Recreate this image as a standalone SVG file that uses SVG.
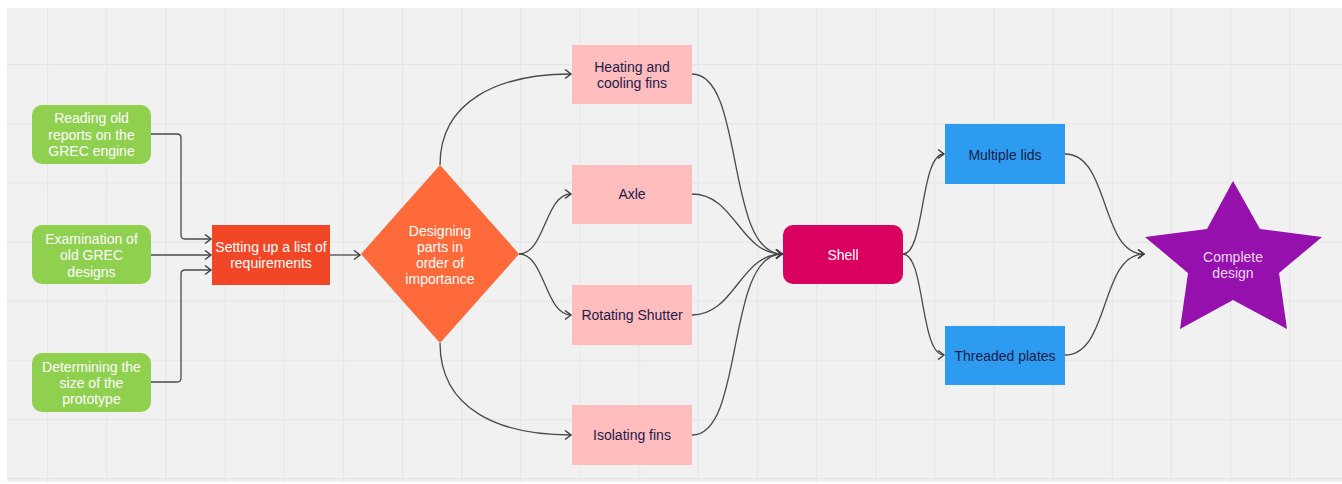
<svg xmlns="http://www.w3.org/2000/svg" width="1342" height="484" viewBox="0 0 1342 484">
<defs>
<marker id="arr" markerUnits="userSpaceOnUse" markerWidth="10" markerHeight="12" refX="7" refY="5" orient="auto">
<path d="M1,0.5 L7,5 L1,9.5" fill="none" stroke="#3c3c3c" stroke-width="1.4" stroke-linejoin="miter"/>
</marker>
<pattern id="grid" patternUnits="userSpaceOnUse" x="47" y="64" width="59.15" height="59.15">
<path d="M0.5,0 V59.15 M0,0.5 H59.15" stroke="#e6e6e6" stroke-width="1.3" fill="none"/>
</pattern>
</defs>
<style>
.t{font-family:"Liberation Sans",Arial,sans-serif;font-size:14px;text-anchor:middle}
.w{fill:#ffffff}
.d{fill:#1c1c4a}
.c{fill:none;stroke:#4a4a4a;stroke-width:1.3;marker-end:url(#arr)}
</style>
<rect width="1342" height="484" fill="#ffffff"/>
<rect x="7" y="8" width="1335" height="474" fill="#f1f1f1"/>
<rect x="7" y="8" width="1335" height="474" fill="url(#grid)"/>

<g id="connectors">
<path class="c" d="M151,134 H177 Q181,134 181,138 V235 Q181,239 185,239 H211"/>
<path class="c" d="M151,255 H211"/>
<path class="c" d="M151,382 H177 Q181,382 181,378 V274 Q181,270 185,270 H211"/>
<path class="c" d="M330,255 H360"/>
<path class="c" d="M440,165 C440,100 500,74 571,74"/>
<path class="c" d="M519,254 C545,254 545,194 571,194"/>
<path class="c" d="M519,254 C545,254 545,315 571,315"/>
<path class="c" d="M440,343 C440,410 500,435 571,435"/>
<path class="c" d="M692,74 C745,74 725,254 782,254"/>
<path class="c" d="M692,194 C735,194 740,254 782,254"/>
<path class="c" d="M692,315 C735,315 740,254 782,254"/>
<path class="c" d="M692,435 C745,435 725,254 782,254"/>
<path class="c" d="M903,254 C925,254 920,154 944,154"/>
<path class="c" d="M903,254 C925,254 920,355 944,355"/>
<path class="c" d="M1065,154 C1110,154 1100,254 1144,254"/>
<path class="c" d="M1065,355 C1110,355 1100,254 1144,254"/>
</g>

<g id="n-reading">
<rect x="32" y="105" width="119" height="59" rx="10" fill="#8fd14f"/>
<text class="t w" x="91.5" y="123">Reading old</text>
<text class="t w" x="91.5" y="140">reports on the</text>
<text class="t w" x="91.5" y="156">GREC engine</text>
</g>
<g id="n-examination">
<rect x="32" y="225" width="119" height="59" rx="10" fill="#8fd14f"/>
<text class="t w" x="91.5" y="244">Examination of</text>
<text class="t w" x="91.5" y="260">old GREC</text>
<text class="t w" x="91.5" y="277">designs</text>
</g>
<g id="n-determining">
<rect x="32" y="353" width="119" height="59" rx="10" fill="#8fd14f"/>
<text class="t w" x="91.5" y="372">Determining the</text>
<text class="t w" x="91.5" y="388">size of the</text>
<text class="t w" x="91.5" y="404">prototype</text>
</g>
<g id="n-setting">
<rect x="212" y="225" width="118" height="60" fill="#f24726"/>
<text class="t w" x="271" y="252">Setting up a list of</text>
<text class="t w" x="271" y="268">requirements</text>
</g>
<g id="n-designing">
<polygon points="440,165 519,254 440,343 361,254" fill="#ff6a3b"/>
<text class="t w" x="440" y="236">Designing</text>
<text class="t w" x="440" y="252">parts in</text>
<text class="t w" x="440" y="268">order of</text>
<text class="t w" x="440" y="284">importance</text>
</g>
<g id="n-heating">
<rect x="572" y="45" width="120" height="59" fill="#ffbdbd"/>
<text class="t d" x="632" y="72">Heating and</text>
<text class="t d" x="632" y="88">cooling fins</text>
</g>
<g id="n-axle">
<rect x="572" y="165" width="120" height="59" fill="#ffbdbd"/>
<text class="t d" x="632" y="199">Axle</text>
</g>
<g id="n-rotating">
<rect x="572" y="285" width="120" height="60" fill="#ffbdbd"/>
<text class="t d" x="632" y="320">Rotating Shutter</text>
</g>
<g id="n-isolating">
<rect x="572" y="405" width="120" height="60" fill="#ffbdbd"/>
<text class="t d" x="632" y="440">Isolating fins</text>
</g>
<g id="n-shell">
<rect x="783" y="225" width="120" height="59" rx="10" fill="#d9005f"/>
<text class="t w" x="843" y="260">Shell</text>
</g>
<g id="n-lids">
<rect x="945" y="124" width="120" height="60" fill="#2d9bf0"/>
<text class="t d" x="1005" y="160">Multiple lids</text>
</g>
<g id="n-threaded">
<rect x="945" y="326" width="120" height="59" fill="#2d9bf0"/>
<text class="t d" x="1005" y="361">Threaded plates</text>
</g>
<g id="n-complete">
<polygon points="1233,181 1260,229 1322,237 1279,273 1287,329 1233,300 1180,329 1188,273 1145,237 1207,229" fill="#9510ac"/>
<text class="t" x="1233" y="262" fill="#f0d8f4">Complete</text>
<text class="t" x="1233" y="278" fill="#f0d8f4">design</text>
</g>
</svg>
